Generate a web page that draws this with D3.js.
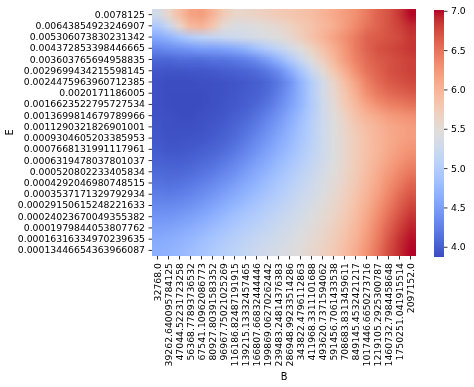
<!DOCTYPE html>
<html><head><meta charset="utf-8">
<script src="https://cdn.jsdelivr.net/npm/d3@7"></script>
<style>
html,body{margin:0;padding:0;background:#fff;}
#wrap{position:relative;width:474px;height:387px;overflow:hidden;}
canvas,svg{position:absolute;left:0;top:0;}
text{font-family:"DejaVu Sans",sans-serif;fill:#000;}
</style></head>
<body><div id="wrap"><canvas id="hm" width="474" height="387"></canvas><svg id="svg" width="474" height="387"></svg></div>
<script>
const bLabels = ["32768.0","39262.640095784125","47044.52231723258","56368.77893736532","67541.10962086773","80927.80391583352","96967.75021025269","116186.82487191915","139215.13332457465","166807.66832444446","199869.06270262442","239483.24814376383","286948.99233514286","343822.4796112863","411968.3311101688","493620.7371594062","591456.7061433538","708683.8313459611","849145.4532421217","1017446.6650273716","1219105.2925300787","1460732.7984458648","1750251.041915514","2097152.0"];
const eLabels = ["0.0078125","0.00643854923246907","0.005306073830231342","0.004372853398446665","0.003603765694958835","0.0029699434215598145","0.0024475963960712385","0.0020171186005","0.0016623522795727534","0.0013699814679789966","0.0011290321826901001","0.0009304605203385953","0.0007668131991117961","0.0006319478037801037","0.000520802233405834","0.0004292046980748515","0.0003537171329792934","0.00029150615248221633","0.00024023670049355382","0.0001979844053807762","0.00016316334970239635","0.00013446654363966087"];
const cbarTicks = [4.0,4.5,5.0,5.5,6.0,6.5,7.0];

const row00 = [5.3,5.6,5.9,6.15,6.2,6.0,5.75,5.6,5.6,5.65,5.7,5.75,5.8,5.85,5.9,6.0,6.1,6.2,6.3,6.45,6.6,6.7,6.85,7.0];
const row01 = [4.95,5.2,5.6,5.95,6.0,5.8,5.5,5.4,5.4,5.45,5.5,5.55,5.65,5.75,5.85,5.95,6.05,6.2,6.35,6.5,6.6,6.7,6.8,6.9];
const row02 = [4.6,4.7,4.85,5.0,5.1,5.15,5.2,5.25,5.3,5.35,5.4,5.45,5.55,5.7,5.85,6.0,6.15,6.3,6.45,6.6,6.65,6.7,6.75,6.85];
const row03 = [4.3,4.35,4.4,4.45,4.5,4.5,4.55,4.6,4.7,4.85,5.0,5.15,5.3,5.45,5.65,5.85,6.05,6.25,6.45,6.6,6.7,6.75,6.8,6.85];
const row04 = [4.05,4.05,4.1,4.1,4.1,4.15,4.15,4.2,4.25,4.35,4.5,4.7,4.95,5.2,5.45,5.7,5.95,6.2,6.4,6.55,6.65,6.7,6.75,6.8];
const row05 = [3.95,3.93,3.93,3.95,3.95,3.97,4.0,4.02,4.05,4.1,4.2,4.35,4.6,4.9,5.2,5.5,5.8,6.05,6.3,6.5,6.6,6.7,6.75,6.8];
const row06 = [3.9,3.88,3.88,3.88,3.9,3.9,3.92,3.94,3.97,4.0,4.07,4.2,4.4,4.7,5.0,5.3,5.6,5.9,6.15,6.4,6.55,6.65,6.7,6.75];
const row07 = [3.9,3.88,3.88,3.88,3.88,3.9,3.92,3.95,3.98,4.02,4.1,4.25,4.45,4.7,5.0,5.3,5.55,5.8,6.05,6.3,6.45,6.55,6.6,6.65];
const row08 = [3.9,3.88,3.87,3.87,3.88,3.9,3.93,3.96,4.0,4.07,4.17,4.32,4.5,4.72,4.98,5.25,5.5,5.75,5.95,6.15,6.3,6.4,6.45,6.5];
const row09 = [3.92,3.9,3.88,3.88,3.9,3.92,3.95,4.0,4.06,4.15,4.27,4.42,4.6,4.8,5.02,5.25,5.45,5.65,5.85,6.0,6.1,6.2,6.25,6.3];
const row10 = [3.93,3.9,3.9,3.9,3.92,3.95,3.99,4.05,4.13,4.23,4.36,4.5,4.67,4.85,5.05,5.25,5.43,5.6,5.77,5.9,6.0,6.1,6.15,6.2];
const row11 = [3.95,3.92,3.92,3.93,3.95,3.98,4.03,4.1,4.2,4.31,4.44,4.58,4.73,4.9,5.07,5.25,5.42,5.58,5.73,5.87,5.98,6.08,6.15,6.2];
const row12 = [3.98,3.95,3.95,3.97,4.0,4.04,4.1,4.18,4.28,4.4,4.53,4.66,4.8,4.95,5.1,5.26,5.42,5.57,5.72,5.86,5.98,6.1,6.2,6.27];
const row13 = [4.02,4.0,4.0,4.03,4.07,4.12,4.19,4.28,4.38,4.5,4.62,4.75,4.88,5.01,5.15,5.29,5.43,5.58,5.73,5.88,6.02,6.15,6.27,6.36];
const row14 = [4.08,4.06,4.07,4.1,4.15,4.21,4.29,4.38,4.49,4.6,4.72,4.84,4.96,5.08,5.2,5.33,5.46,5.6,5.75,5.91,6.07,6.22,6.36,6.47];
const row15 = [4.15,4.13,4.15,4.19,4.25,4.32,4.4,4.49,4.6,4.71,4.82,4.93,5.04,5.15,5.26,5.38,5.5,5.63,5.78,5.95,6.12,6.3,6.45,6.58];
const row16 = [4.23,4.22,4.24,4.29,4.35,4.43,4.52,4.61,4.71,4.81,4.91,5.01,5.11,5.21,5.31,5.42,5.54,5.67,5.83,6.0,6.18,6.37,6.55,6.68];
const row17 = [4.32,4.32,4.35,4.4,4.47,4.55,4.64,4.73,4.82,4.91,5.0,5.09,5.18,5.27,5.37,5.47,5.58,5.71,5.87,6.05,6.25,6.45,6.63,6.77];
const row18 = [4.42,4.43,4.47,4.52,4.59,4.67,4.76,4.85,4.93,5.01,5.09,5.17,5.25,5.33,5.42,5.52,5.63,5.76,5.92,6.11,6.32,6.53,6.72,6.86];
const row19 = [4.52,4.54,4.58,4.64,4.71,4.79,4.87,4.95,5.03,5.1,5.17,5.24,5.31,5.39,5.47,5.57,5.68,5.81,5.97,6.17,6.39,6.61,6.8,6.93];
const row20 = [4.6,4.63,4.68,4.74,4.81,4.89,4.97,5.04,5.11,5.18,5.24,5.3,5.37,5.44,5.52,5.61,5.72,5.86,6.02,6.22,6.45,6.68,6.87,6.98];
const row21 = [4.65,4.69,4.74,4.81,4.88,4.96,5.03,5.1,5.17,5.23,5.29,5.35,5.41,5.48,5.56,5.65,5.76,5.9,6.07,6.27,6.5,6.73,6.9,7.01];
const values = [row00,row01,row02,row03,row04,row05,row06,row07,row08,row09,row10,row11,row12,row13,row14,row15,row16,row17,row18,row19,row20,row21];

// matplotlib coolwarm
const coolwarm = [[59,76,192],[68,90,204],[77,104,215],[87,117,225],[98,130,234],[108,142,241],[119,154,247],[130,165,251],[141,176,254],[152,185,255],[163,194,255],[174,201,253],[184,208,249],[194,213,244],[204,217,238],[213,219,230],[221,221,221],[229,216,209],[236,211,197],[241,204,184],[245,196,172],[247,187,160],[247,177,148],[247,166,135],[244,154,123],[241,141,111],[236,127,99],[229,112,88],[222,96,77],[213,80,66],[203,62,56],[192,40,47],[180,4,38]];
const cmapInterp = d3.piecewise(d3.interpolateRgb, coolwarm.map(c => d3.rgb(c[0],c[1],c[2])));

const flat = values.flat();
const vmin = d3.min(flat), vmax = d3.max(flat);
const color = d3.scaleSequential(cmapInterp).domain([vmin, vmax]);

const L = 152, T = 9, W = 264, H = 247;
const FS = 9.3;
const x = d3.scaleBand().domain(bLabels).range([L, L + W]);
const y = d3.scaleBand().domain(eLabels).range([T, T + H]);

// draw cells on a small canvas through band scales of unit size, then upscale smoothly
const xs = d3.scaleBand().domain(bLabels).range([0, bLabels.length]);
const ys = d3.scaleBand().domain(eLabels).range([0, eLabels.length]);
const small = document.createElement('canvas');
small.width = bLabels.length; small.height = eLabels.length;
const sctx = small.getContext('2d');
values.forEach((row, i) => row.forEach((v, j) => {
  sctx.fillStyle = color(v);
  sctx.fillRect(xs(bLabels[j]), ys(eLabels[i]), xs.bandwidth(), ys.bandwidth());
}));
const ctx = document.getElementById('hm').getContext('2d');
ctx.imageSmoothingEnabled = true;
ctx.imageSmoothingQuality = 'low';
ctx.drawImage(small, L, T, W, H);

const svg = d3.select('#svg');

// x axis
const xAxis = svg.append('g').attr('transform', `translate(0,${T + H})`)
  .call(d3.axisBottom(x).tickSize(3.5).tickPadding(3.5));
xAxis.select('.domain').remove();
xAxis.selectAll('line').attr('stroke', '#000').attr('stroke-width', 0.8);
xAxis.selectAll('text').attr('font-size', FS).attr('font-family', 'DejaVu Sans')
  .attr('transform', 'rotate(-90)').attr('text-anchor', 'end')
  .attr('x', -7).attr('y', 0).attr('dy', '0.35em');

// y axis
const yAxis = svg.append('g').attr('transform', `translate(${L},0)`)
  .call(d3.axisLeft(y).tickSize(3.5).tickPadding(3.5));
yAxis.select('.domain').remove();
yAxis.selectAll('line').attr('stroke', '#000').attr('stroke-width', 0.8);
yAxis.selectAll('text').attr('font-size', FS).attr('font-family', 'DejaVu Sans');

svg.append('text').attr('x', L + W / 2).attr('y', 380).attr('text-anchor', 'middle')
  .attr('font-size', FS + 0.5).text('B');
svg.append('text').attr('transform', `translate(13,${T + H / 2}) rotate(-90)`)
  .attr('text-anchor', 'middle').attr('font-size', FS + 0.5).text('E');

// colorbar
const CX = 434, CW = 10, CT = 10, CB = 257;
const defs = svg.append('defs');
const grad = defs.append('linearGradient').attr('id', 'cb').attr('x1', 0).attr('y1', 1).attr('x2', 0).attr('y2', 0);
d3.range(0, 1.0001, 1 / 64).forEach(t => grad.append('stop').attr('offset', t).attr('stop-color', cmapInterp(t)));
svg.append('rect').attr('x', CX).attr('y', CT).attr('width', CW).attr('height', CB - CT).attr('fill', 'url(#cb)');
const cy = d3.scaleLinear().domain([vmin, vmax]).range([CB, CT]);
const cAxis = svg.append('g').attr('transform', `translate(${CX + CW},0)`)
  .call(d3.axisRight(cy).tickValues(cbarTicks).tickFormat(d3.format('.1f')).tickSize(3.5).tickPadding(3.5));
cAxis.select('.domain').remove();
cAxis.selectAll('line').attr('stroke', '#000').attr('stroke-width', 0.8);
cAxis.selectAll('text').attr('font-size', FS).attr('font-family', 'DejaVu Sans');
</script></body></html>
